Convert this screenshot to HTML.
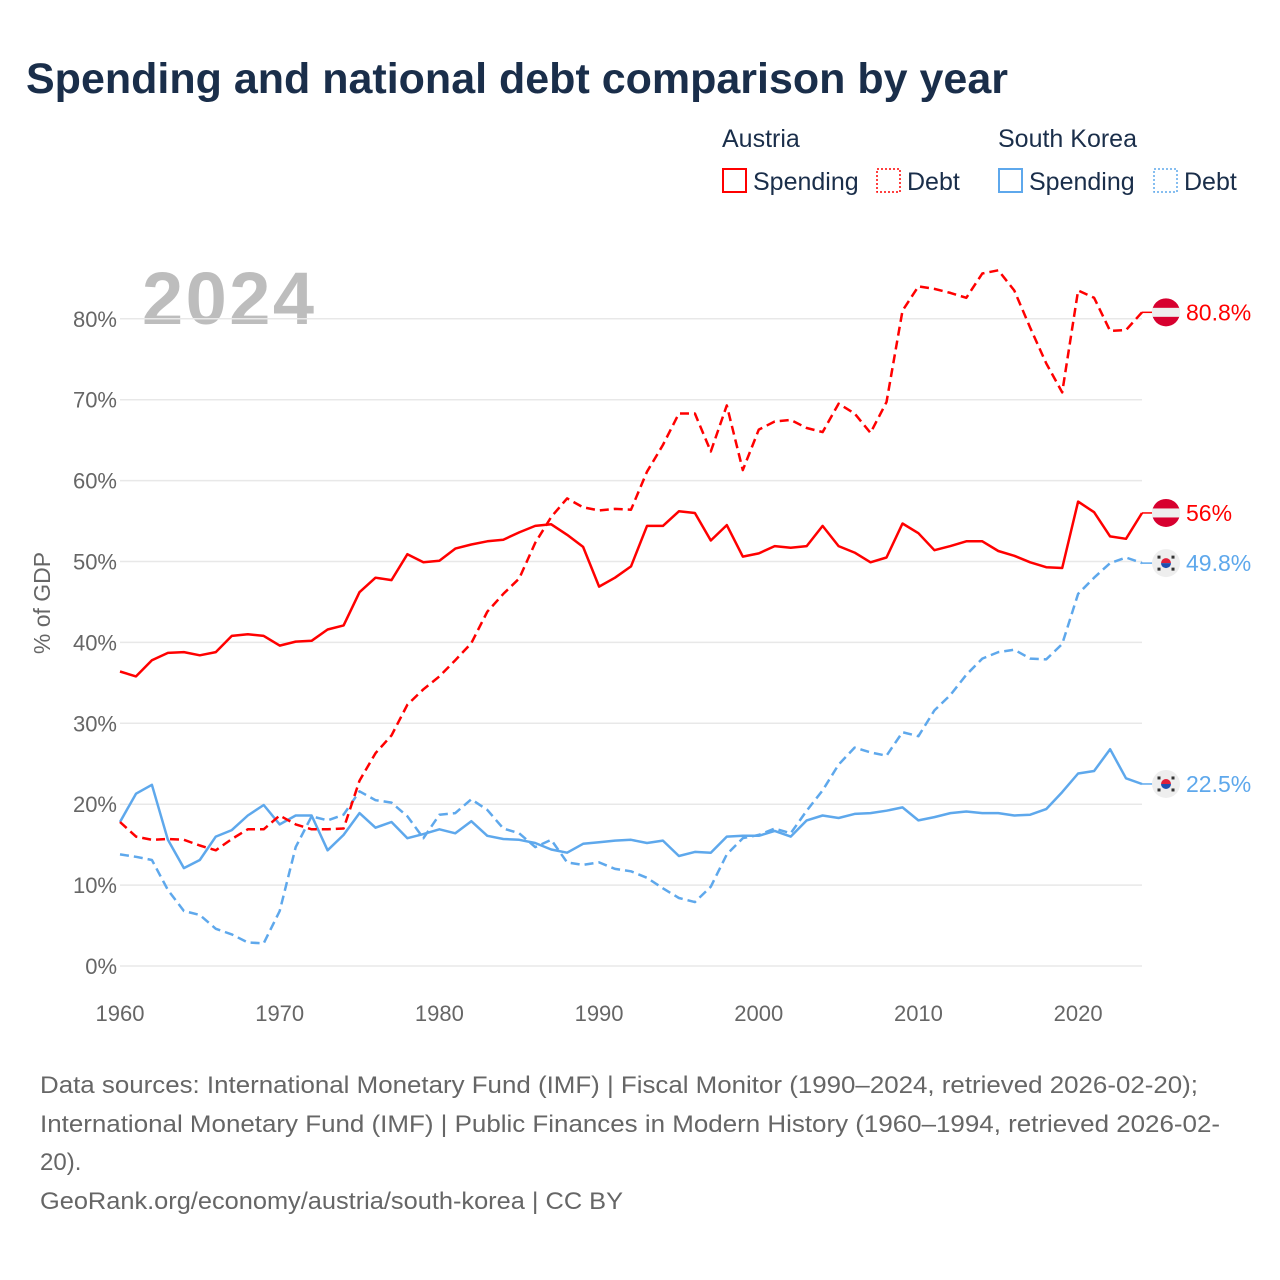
<!DOCTYPE html>
<html><head><meta charset="utf-8"><style>
html,body{margin:0;padding:0;background:#fff;width:1280px;height:1280px;overflow:hidden}
svg{display:block;font-family:"Liberation Sans",sans-serif}
</style></head><body>
<svg id="chart" width="1280" height="1280" viewBox="0 0 1280 1280">
<text x="26" y="93" font-size="43" font-weight="bold" fill="#1a2e4a">Spending and national debt comparison by year</text>
<g font-size="25" fill="#1a2e4a">
<text x="722" y="147">Austria</text>
<text x="998" y="147">South Korea</text>
<g><rect x="723" y="169" width="23" height="23" fill="none" stroke="#ff0000" stroke-width="2"/><text x="753" y="190">Spending</text></g>
<g><rect x="877" y="169" width="23" height="23" fill="none" stroke="#ff0000" stroke-width="1.5" stroke-dasharray="2,2"/><text x="907" y="190">Debt</text></g>
<g><rect x="999" y="169" width="23" height="23" fill="none" stroke="#5ea8ec" stroke-width="2"/><text x="1029" y="190">Spending</text></g>
<g><rect x="1154" y="169" width="23" height="23" fill="none" stroke="#5ea8ec" stroke-width="1.5" stroke-dasharray="2,2"/><text x="1184" y="190">Debt</text></g>
</g>
<text x="142" y="324" font-size="74" font-weight="bold" fill="#bdbdbd" textLength="172">2024</text>
<text transform="translate(50,603) rotate(-90)" text-anchor="middle" font-size="23" fill="#666">% of GDP</text>
<g id="grid"></g><g id="series"></g><g id="ends"></g>
<g font-size="24" fill="#666">
<text x="40" y="1093" textLength="1158" lengthAdjust="spacingAndGlyphs">Data sources: International Monetary Fund (IMF) | Fiscal Monitor (1990–2024, retrieved 2026-02-20);</text>
<text x="40" y="1132" textLength="1180" lengthAdjust="spacingAndGlyphs">International Monetary Fund (IMF) | Public Finances in Modern History (1960–1994, retrieved 2026-02-</text>
<text x="40" y="1170">20).</text>
<text x="40" y="1209" textLength="583" lengthAdjust="spacingAndGlyphs">GeoRank.org/economy/austria/south-korea | CC BY</text>
</g>
</svg>
<script>
const startYear = 1960;
const yTicks = [0,10,20,30,40,50,60,70,80];
const xTicks = [1960,1970,1980,1990,2000,2010,2020];
const atSpending = [36.4,35.8,37.8,38.7,38.8,38.4,38.8,40.8,41.0,40.8,39.6,40.1,40.2,41.6,42.1,46.2,48.0,47.7,50.9,49.9,50.1,51.6,52.1,52.5,52.7,53.6,54.4,54.6,53.3,51.8,46.9,48.0,49.4,54.4,54.4,56.2,56.0,52.6,54.5,50.6,51.0,51.9,51.7,51.9,54.4,51.9,51.1,49.9,50.5,54.7,53.5,51.4,51.9,52.5,52.5,51.3,50.7,49.9,49.3,49.2,57.4,56.1,53.1,52.8,56.0];
const atDebt = [17.8,16.0,15.6,15.7,15.6,14.9,14.3,15.7,16.9,16.9,18.6,17.5,16.9,16.9,17.0,22.9,26.3,28.5,32.3,34.2,35.8,37.8,39.9,43.8,46.0,47.9,52.3,55.5,57.8,56.7,56.3,56.5,56.4,61.1,64.4,68.3,68.3,63.6,69.3,61.3,66.3,67.3,67.5,66.5,66.0,69.5,68.3,65.9,69.7,81.0,84.0,83.7,83.2,82.6,85.6,86.0,83.5,78.9,74.5,70.9,83.5,82.6,78.5,78.6,80.8];
const krSpending = [17.8,21.3,22.4,15.6,12.1,13.1,16.0,16.8,18.6,19.9,17.5,18.6,18.6,14.3,16.2,18.9,17.1,17.8,15.8,16.3,16.9,16.4,17.9,16.1,15.7,15.6,15.2,14.4,14.0,15.1,15.3,15.5,15.6,15.2,15.5,13.6,14.1,14.0,16.0,16.1,16.1,16.7,16.0,18.0,18.6,18.3,18.8,18.9,19.2,19.6,18.0,18.4,18.9,19.1,18.9,18.9,18.6,18.7,19.4,21.5,23.8,24.1,26.8,23.2,22.5];
const krDebt = [13.8,13.5,13.1,9.4,6.8,6.3,4.6,3.9,2.9,2.8,6.8,14.7,18.5,18.0,18.7,21.6,20.5,20.2,18.5,15.8,18.7,18.9,20.6,19.3,17.0,16.4,14.7,15.6,12.8,12.5,12.8,12.0,11.7,10.9,9.6,8.4,7.9,9.8,13.8,15.8,16.2,17.0,16.4,19.2,21.7,24.9,27.0,26.4,26.0,28.9,28.4,31.6,33.5,36.0,38.0,38.8,39.1,38.0,37.9,39.8,46.0,48.0,49.8,50.5,49.8];
const endLabels = ["80.8%","56%","49.8%","22.5%"];

const NS="http://www.w3.org/2000/svg";
const X0=120, X1=1142, Y0=966, YPER=8.09;
function xs(yr){return X0+(yr-1960)*(X1-X0)/64;}
function ys(v){return Y0-v*YPER;}
function mk(tag,attrs,parent){const e=document.createElementNS(NS,tag);for(const k in attrs)e.setAttribute(k,attrs[k]);parent.appendChild(e);return e;}
const grid=document.getElementById('grid');
yTicks.forEach(t=>{
  const l=mk('line',{x1:X0,x2:X1,y1:ys(t),y2:ys(t),stroke:'#e8e8e8','stroke-width':1.5},grid);
  
  
  const tx=mk('text',{x:117,y:ys(t)+8,'text-anchor':'end','font-size':22,fill:'#666'},grid);
  tx.textContent=t+'%';
  
  
});
xTicks.forEach(t=>{
  const tx=mk('text',{x:xs(t),y:1021,'text-anchor':'middle','font-size':22,fill:'#666'},grid);
  tx.textContent=t;
  
  
});
const series=document.getElementById('series');
function line(arr,color,dash,name){
  const d=arr.map((v,i)=>(i?'L':'M')+xs(startYear+i).toFixed(1)+' '+ys(v).toFixed(1)).join(' ');
  const p=mk('path',{d:d,fill:'none',stroke:color,'stroke-width':2.5,'stroke-linejoin':'round'},series);
  if(dash)p.setAttribute('stroke-dasharray','9,5');
  
  
}
line(krDebt,'#5ea8ec',true,'korea-debt-line');
line(krSpending,'#5ea8ec',false,'korea-spending-line');
line(atDebt,'#ff0000',true,'austria-debt-line');
line(atSpending,'#ff0000',false,'austria-spending-line');
const ends=document.getElementById('ends');
const endSeries=[[atDebt,'#ff0000','at'],[atSpending,'#ff0000','at'],[krDebt,'#5ea8ec','kr'],[krSpending,'#5ea8ec','kr']];
endSeries.forEach((s,i)=>{
  const v=s[0][s[0].length-1], y=ys(v), cx=1166;
  mk('line',{x1:X1,x2:cx-12,y1:y,y2:y,stroke:s[1],'stroke-width':1.5},ends);
  const g=mk('g',{},ends);
  
  
  if(s[2]=='at'){
    mk('circle',{cx:cx,cy:y,r:14,fill:'#d7002f'},g);
    mk('rect',{x:cx-14,y:y-4.5,width:28,height:9,fill:'#eee'},g);
  } else {
    mk('circle',{cx:cx,cy:y,r:14,fill:'#eee'},g);
    mk('path',{d:`M${cx-5} ${y} A5 5 0 0 1 ${cx+5} ${y} Z`,fill:'#e0203a'},g);
    mk('path',{d:`M${cx-5} ${y} A5 5 0 0 0 ${cx+5} ${y} Z`,fill:'#1d4fb0'},g);
    [[-7,-6],[7,-6],[-7,6],[7,6]].forEach(o=>mk('rect',{x:cx+o[0]-1.5,y:y+o[1]-1.5,width:3,height:3,fill:'#333'},g));
  }
  const t=mk('text',{x:1186,y:y+8,'font-size':23,fill:s[1]},ends);
  t.textContent=endLabels[i];
  
  
});
</script>
</body></html>
